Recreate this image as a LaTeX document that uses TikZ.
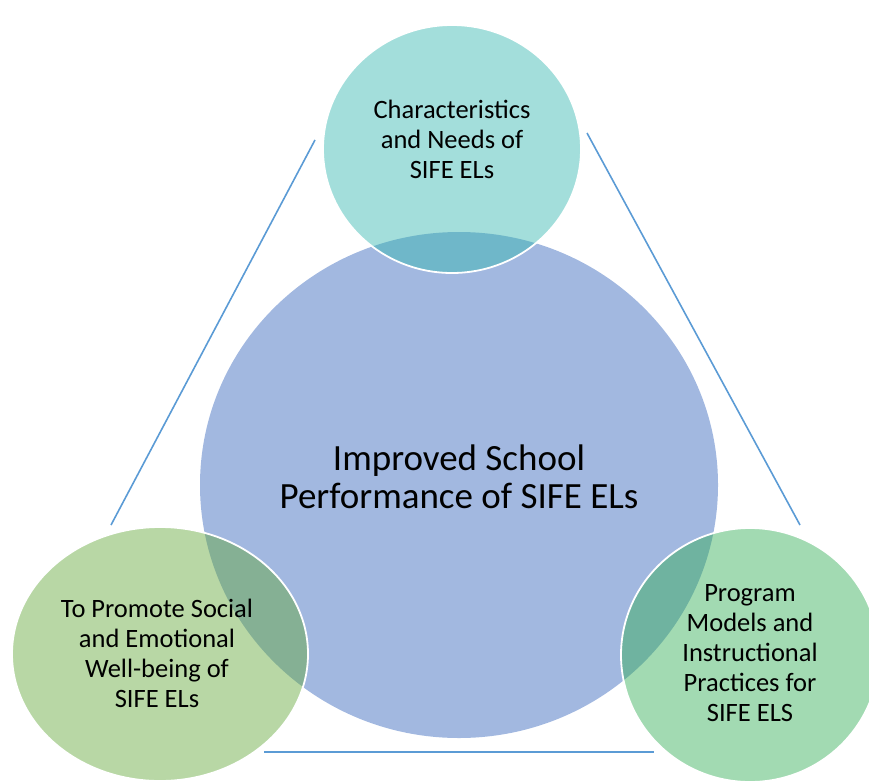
\documentclass[tikz,border=0pt]{standalone}
\usepackage{fontspec}
\setmainfont{Carlito}
\usetikzlibrary{shapes.geometric}
\definecolor{hubblue}{RGB}{162,184,224}
\definecolor{teal}{RGB}{51,182,175}
\definecolor{leafgreen}{RGB}{98,167,56}
\definecolor{mintgreen}{RGB}{49,173,84}
\definecolor{lineblue}{RGB}{91,155,213}

\begin{document}
\begin{tikzpicture}[x=1pt,y=-1pt]
\tikzstyle{bubble}=[ellipse,inner sep=0pt,draw=white,line width=1.8pt,fill opacity=0.45]
\tikzstyle{edge}=[draw=lineblue,line width=1.6pt]
\tikzstyle{small}=[align=center,font=\fontsize{26.5}{30}\selectfont]
\useasboundingbox (0,0) rectangle (869,781);

% centre and the three around it
\node[ellipse,inner sep=0pt,fill=hubblue,minimum width=518pt,minimum height=506pt] (hub) at (459,485) {};
\node[bubble,fill=teal,minimum width=258pt,minimum height=248pt] (needs) at (452,149) {};
\node[bubble,fill=leafgreen,minimum width=296pt,minimum height=254pt] (social) at (160,654) {};
\node[bubble,fill=mintgreen,minimum width=258pt,minimum height=254pt] (models) at (750,655) {};

\node[align=center,font=\fontsize{37}{38}\selectfont] (hubtext) at (459,477) {Improved School\\Performance of SIFE ELs};
\node[small] (needstext) at (452,139) {Characteristics\\and Needs of\\SIFE ELs};
\node[small] (socialtext) at (157,653) {To Promote Social\\and Emotional\\Well-being of\\SIFE ELs};
\node[small] (modelstext) at (750,653) {Program\\Models and\\Instructional\\Practices for\\SIFE ELS};

% triangle sides
\coordinate (l1) at (315,140);
\coordinate (l2) at (111,525);
\coordinate (r1) at (587,133);
\coordinate (r2) at (800,525);
\coordinate (b1) at (264,752);
\coordinate (b2) at (654,752);
\draw[edge] (l1) -- (l2);
\draw[edge] (r1) -- (r2);
\draw[edge] (b1) -- (b2);
\end{tikzpicture}
\end{document}
